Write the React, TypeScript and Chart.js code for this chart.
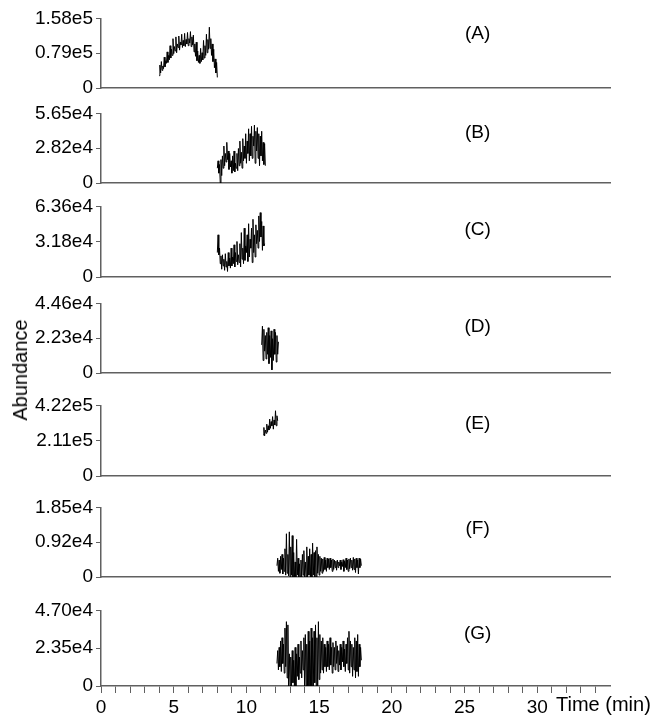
import React, { useEffect, useRef } from 'react';
import { Chart, registerables } from 'chart.js';

Chart.register(...registerables);

// ---------- data ----------
const PANEL_NAMES = ['(A)', '(B)', '(C)', '(D)', '(E)', '(F)', '(G)'];
const Y_MAX = [1.58e5, 5.65e4, 6.36e4, 4.46e4, 4.22e5, 1.85e4, 4.7e4];
const Y_TICK_LABELS = [
  ['0', '0.79e5', '1.58e5'],
  ['0', '2.82e4', '5.65e4'],
  ['0', '3.18e4', '6.36e4'],
  ['0', '2.23e4', '4.46e4'],
  ['0', '2.11e5', '4.22e5'],
  ['0', '0.92e4', '1.85e4'],
  ['0', '2.35e4', '4.70e4'],
];
// start time (min) of each trace; samples every T_STEP minutes
const T_START = [4.0, 8.0, 8.0, 11.05, 11.15, 12.1, 12.1];
const T_STEP = 0.05;

// abundance values, in thousands
const ABUND_A = [
  28, 52, 34, 60, 40, 50, 44, 70, 48, 62, 56, 82, 58, 74, 64, 96, 68, 88, 74, 112,
  78, 94, 84, 116, 80, 100, 92, 118, 86, 104, 98, 122, 92, 108, 96, 124, 94, 110, 100, 126,
  96, 112, 102, 128, 94, 116, 98, 120, 82, 100, 72, 104, 62, 84, 58, 74, 56, 90, 60, 80,
  64, 108, 68, 96, 74, 122, 80, 110, 88, 138, 90, 112, 74, 100, 60, 88, 46, 66, 34, 58, 24,
];
const ABUND_B = [
  12, 18, 8, 15, 0, 19, 6, 22, 12, 30, 14, 24, 17, 33, 19, 26, 11, 24, 13, 18,
  8, 22, 10, 26, 9, 16, 12, 24, 10, 28, 14, 34, 16, 25, 12, 36, 18, 30, 20, 40,
  16, 34, 24, 44, 18, 40, 22, 46, 20, 38, 30, 47, 16, 42, 26, 45, 20, 40, 14, 38,
  22, 42, 18, 33, 15, 32, 14,
];
const ABUND_C = [
  22, 38, 20, 26, 12, 19, 7, 20, 10, 16, 6, 21, 9, 14, 5, 22, 10, 17, 8, 26,
  10, 18, 12, 29, 9, 22, 14, 32, 11, 20, 13, 30, 9, 40, 16, 26, 12, 44, 15, 28,
  22, 38, 14, 48, 18, 34, 26, 44, 13, 52, 22, 38, 18, 47, 30, 42, 26, 55, 32, 58,
  36, 50, 24, 46, 28, 30,
];
const ABUND_D = [
  18, 30, 8, 28, 14, 24, 9, 26, 12, 29, 6, 24, 10, 27, 2, 22, 8, 28, 12, 26, 7, 24, 12, 20,
];
const ABUND_E = [
  245, 290, 240, 275, 255, 310, 262, 300, 275, 340, 285, 325, 300, 355, 280, 335, 305, 390, 300, 360, 330,
];
const ABUND_F = [
  3.0, 5.0, 1.5, 4.5, 1.0, 5.5, 2.0, 6.0, 0.8, 5.0, 1.5, 7.5, 0.5, 11.5, 1.0, 6.0, 0.3, 12.0, 0, 8.0,
  0.5, 11.0, 0, 6.5, 0, 4.0, 0, 10.0, 0.5, 5.0, 0, 3.5, 0, 4.5, 0, 6.0, 0.5, 7.0, 0, 4.0,
  0, 8.0, 0, 5.5, 0.5, 7.5, 0, 6.0, 0, 9.0, 0.5, 6.5, 0, 7.0, 0, 8.0, 1.0, 6.0, 0.5, 5.5,
  1.5, 5.0, 1.0, 4.8, 1.5, 5.2, 2.0, 4.5, 1.5, 5.0, 2.5, 4.8, 2.0, 5.0, 2.5, 4.5, 1.5, 4.8, 2.0, 4.5,
  2.5, 4.2, 1.8, 4.5, 2.5, 4.0, 3.0, 4.5, 2.0, 4.0, 2.8, 4.6, 1.5, 4.2, 2.5, 5.0, 2.0, 4.5, 1.5, 4.8,
  2.2, 5.0, 2.5, 4.5, 1.8, 5.2, 2.0, 4.8, 1.2, 5.0, 2.5, 4.5, 0.8, 5.0, 2.5, 4.8, 3.0,
];
const ABUND_G = [
  14, 22, 10, 24, 12, 28, 9, 30, 14, 26, 8, 36, 12, 40, 5, 38, 0, 20, 0, 18,
  0, 22, 2, 16, 0, 24, 0, 20, 6, 26, 4, 18, 8, 28, 5, 22, 10, 30, 0, 32,
  0, 26, 0, 34, 0, 28, 0, 36, 0, 30, 0, 34, 2, 38, 0, 30, 0, 40, 4, 32,
  8, 28, 10, 30, 8, 26, 12, 24, 9, 28, 12, 26, 10, 30, 13, 24, 8, 27, 12, 24,
  10, 28, 14, 25, 9, 22, 13, 26, 10, 24, 15, 28, 12, 23, 9, 26, 14, 30, 10, 34,
  8, 28, 12, 26, 6, 24, 10, 30, 5, 28, 9, 32, 6, 26, 12, 24, 16,
];
const SERIES = [ABUND_A, ABUND_B, ABUND_C, ABUND_D, ABUND_E, ABUND_F, ABUND_G];

const X_MIN = 0;
const X_MAX = 35;
const X_TICK_VALUES = [
  0, 1, 2, 3, 4, 5, 6, 7, 8, 9, 10, 11, 12, 13, 14, 15, 16, 17,
  18, 19, 20, 21, 22, 23, 24, 25, 26, 27, 28, 29, 30, 31, 32, 33, 34,
];
const X_LABELED = [0, 5, 10, 15, 20, 25, 30];

// ---------- layout ----------
const PAGE_W = 654;
const PAGE_H = 715;
const AXIS_LEFT = 101;
const AXIS_RIGHT = 610;
const PANEL_TOP = [18, 113, 206, 303, 405, 507, 610];
const PANEL_BOTTOM = [95, 190, 284, 380, 483, 584, 686];
const LABEL_Y = [34, 133, 230, 327, 424, 529, 634];
const LABEL_T = 25.9;
const TITLE_X = 556;
const PAD_TOP = 14;
const PAD_BOTTOM = 12;
const FONT = '"Liberation Sans", Arial, Helvetica, sans-serif';
const AXIS_COLOR = '#606060';

function Panel({ idx }: { idx: number }) {
  const ref = useRef<HTMLCanvasElement>(null);
  const isLast = idx === SERIES.length - 1;
  const top = PANEL_TOP[idx] - PAD_TOP;
  const height = isLast
    ? PAGE_H - top
    : PANEL_BOTTOM[idx] - PANEL_TOP[idx] + PAD_TOP + PAD_BOTTOM;

  useEffect(() => {
    const values = SERIES[idx];
    const data = values.map((v, i) => ({ x: T_START[idx] + i * T_STEP, y: v * 1000 }));
    const labelPlugin = {
      id: 'panelLabel',
      afterDraw(chart: any) {
        const { ctx, scales, chartArea } = chart;
        ctx.save();
        ctx.fillStyle = '#000';
        ctx.font = `19px ${FONT}`;
        ctx.textAlign = 'center';
        ctx.textBaseline = 'middle';
        ctx.fillText(PANEL_NAMES[idx], scales.x.getPixelForValue(LABEL_T), LABEL_Y[idx] - top);
        if (isLast) {
          ctx.font = `20px ${FONT}`;
          ctx.textAlign = 'left';
          ctx.fillText('Time (min)', TITLE_X, chartArea.bottom + 19);
        }
        ctx.restore();
      },
    };
    const chart = new Chart(ref.current as HTMLCanvasElement, {
      type: 'line',
      data: {
        datasets: [
          {
            data,
            borderColor: '#000',
            borderWidth: 1,
            pointRadius: 0,
            tension: 0,
            fill: false,
          },
        ],
      },
      options: {
        animation: false,
        responsive: false,
        devicePixelRatio: 1,
        events: [],
        layout: {
          padding: {
            top: PAD_TOP,
            bottom: isLast ? 0 : PAD_BOTTOM,
            left: 0,
            right: PAGE_W - AXIS_RIGHT,
          },
        },
        plugins: {
          legend: { display: false },
          tooltip: { enabled: false },
          title: { display: false },
        },
        scales: {
          x: {
            type: 'linear',
            min: X_MIN,
            max: X_MAX,
            afterBuildTicks: (s: any) => {
              s.ticks = X_TICK_VALUES.map((value) => ({ value }));
            },
            afterFit: (s: any) => {
              if (isLast) s.height = PAGE_H - PANEL_BOTTOM[idx];
            },
            grid: {
              display: isLast,
              drawOnChartArea: false,
              drawTicks: true,
              tickLength: 7,
              color: AXIS_COLOR,
              lineWidth: 1,
            },
            border: { display: true, color: AXIS_COLOR, width: 1.5 },
            ticks: {
              display: isLast,
              autoSkip: false,
              maxRotation: 0,
              padding: 3,
              color: '#000',
              font: { family: FONT, size: 19 },
              callback: (v: any) => (X_LABELED.includes(Number(v)) ? String(v) : ''),
            },
          },
          y: {
            type: 'linear',
            min: 0,
            max: Y_MAX[idx],
            afterBuildTicks: (s: any) => {
              s.ticks = [0, Y_MAX[idx] / 2, Y_MAX[idx]].map((value) => ({ value }));
            },
            afterFit: (s: any) => {
              s.width = AXIS_LEFT;
            },
            grid: {
              display: true,
              drawOnChartArea: false,
              drawTicks: true,
              tickLength: 5,
              color: AXIS_COLOR,
              lineWidth: 1,
            },
            border: { display: true, color: AXIS_COLOR, width: 1.5 },
            ticks: {
              padding: 3,
              color: '#000',
              font: { family: FONT, size: 19 },
              callback: (_v: any, i: number) => Y_TICK_LABELS[idx][i],
            },
          },
        },
      } as any,
      plugins: [labelPlugin],
    });
    return () => chart.destroy();
  }, []);

  return (
    <canvas
      ref={ref}
      width={PAGE_W}
      height={height}
      style={{ position: 'absolute', left: 0, top, width: PAGE_W, height }}
    />
  );
}

export default function App() {
  return (
    <div
      style={{
        position: 'absolute',
        left: 0,
        top: 0,
        width: PAGE_W,
        height: PAGE_H,
        overflow: 'hidden',
        background: '#fff',
      }}
    >
      {SERIES.map((_, i) => (
        <Panel key={i} idx={i} />
      ))}
      <div
        style={{
          position: 'absolute',
          left: 20,
          top: 370,
          transform: 'translate(-50%, -50%) rotate(-90deg)',
          whiteSpace: 'nowrap',
          fontFamily: FONT,
          fontSize: 20,
          color: '#000',
          lineHeight: 1,
        }}
      >
        Abundance
      </div>
    </div>
  );
}
